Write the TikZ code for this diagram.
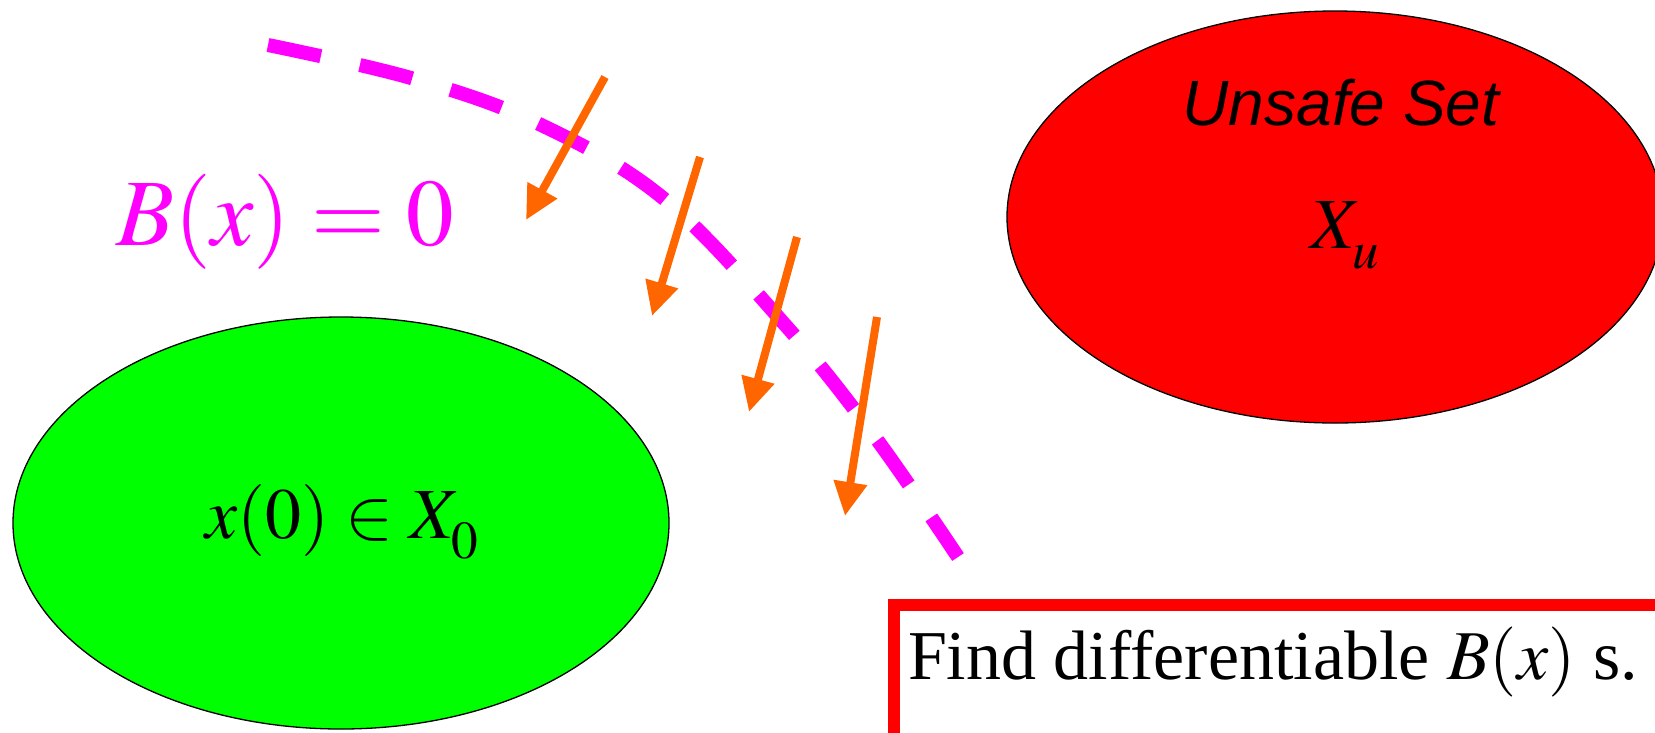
\RequirePackage{fix-cm}
\documentclass[tikz,border=0pt]{standalone}
\usepackage{mathptmx}
\usepackage{fontspec}
\setmainfont{Liberation Serif}
\newfontfamily\arialfont{Liberation Sans}
\usetikzlibrary{shapes.geometric, arrows.meta}
\definecolor{safegreen}{HTML}{00FF00}
\definecolor{unsafered}{HTML}{FF0000}
\definecolor{barrier}{HTML}{FF00FF}
\definecolor{flowor}{HTML}{FF6600}
\newcommand{\dropsub}[1]{\raisebox{-0.14em}{$\scriptstyle #1$}}
\tikzset{
  region/.style={ellipse, draw=black, line width=1.3pt, fill=#1,
                 minimum width=656pt, minimum height=412pt, inner sep=0pt},
  levelset/.style={barrier, line width=14pt, dash pattern=on 54pt off 40pt},
  flow/.style={-{Triangle[length=34pt, width=32pt]}, line width=8pt, draw=flowor},
  setlbl/.style={font=\fontsize{72pt}{86pt}\selectfont, inner sep=0pt},
  titlelbl/.style={font=\arialfont\itshape\fontsize{64pt}{76pt}\selectfont, inner sep=0pt},
  condbox/.style={rectangle, draw=unsafered, line width=12pt, fill=white,
                  font=\fontsize{70pt}{84pt}\selectfont, anchor=north west,
                  inner xsep=14pt, inner ysep=15pt, text height=59pt, text depth=300pt},
}
\begin{document}
\begin{tikzpicture}[x=1pt, y=-1pt]
  \useasboundingbox (0,0) rectangle (1655,732);
  \fill[white] (0,0) rectangle (1655,732);
  \clip (0,0) rectangle (1655,732);
  % the two sets
  \node[region=safegreen] (init) at (341,523) {};
  \node[region=unsafered] (unsafe) at (1335,217) {};
  \node[setlbl, anchor=base] (x0lbl) at (342,538) {$x(0)\in X_{\dropsub{0}}$};
  \node[titlelbl, anchor=base] (unsafelbl) at (1341,125) {Unsafe Set};
  \node[setlbl, anchor=base] (xulbl) at (1345,248) {$X_{\dropsub{u}}$};
  % zero level set of B
  \draw[levelset] plot[smooth, tension=0.6] coordinates {(268,45) (411,78) (537,123) (663,198) (787,327) (875,437) (958,557)};
  \node[setlbl, text=barrier, font=\fontsize{95pt}{110pt}\selectfont, anchor=base] (blbl) at (285,245) {$B(x)=0$};
  % vector field crossing the level set
  \foreach \i/\tx/\ty/\hx/\hy in {1/605/77/526/220, 2/700/157/652/316, 3/797/237/749/412, 4/877/317/845/516}{
    \coordinate (t\i) at (\tx,\ty);
    \coordinate (h\i) at (\hx,\hy);
    \draw[flow] (t\i) -- (h\i);
  }
  \node[condbox] (cond) at (888,599) {Find differentiable $B(x)$ s.\hspace*{300pt}};
\end{tikzpicture}
\end{document}
